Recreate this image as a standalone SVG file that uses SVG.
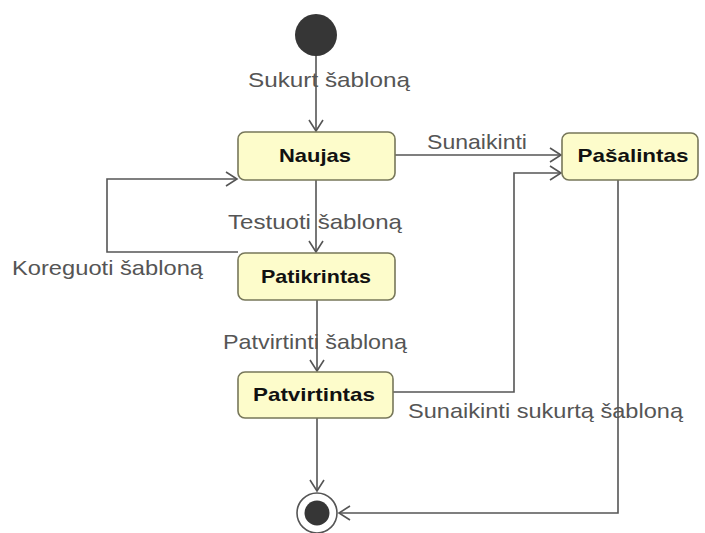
<svg xmlns="http://www.w3.org/2000/svg" width="705" height="533" viewBox="0 0 705 533">
  <style>
    .state rect { fill: #fdfccb; stroke: #77775a; stroke-width: 1.6; }
    .state text { font-family: "Liberation Sans", Arial, sans-serif; font-weight: bold; font-size: 19px; fill: #111; text-anchor: middle; }
    .edge { fill: none; stroke: #555; stroke-width: 1.6; }
    .lbl { font-family: "Liberation Sans", Arial, sans-serif; font-size: 21px; fill: #555; }
  </style>
  <defs>
    <marker id="open" markerUnits="userSpaceOnUse" markerWidth="14" markerHeight="16" refX="12" refY="8" orient="auto">
      <path d="M1,1 L12,8 L1,15" fill="none" stroke="#555" stroke-width="1.6"/>
    </marker>
  </defs>

  <rect width="705" height="533" fill="#fff"/>

  <!-- transitions -->
  <g id="connectors">
    <path class="edge" d="M316,56 V131" marker-end="url(#open)"/>
    <path class="edge" d="M395,155 H561" marker-end="url(#open)"/>
    <path class="edge" d="M316,180 V252" marker-end="url(#open)"/>
    <path class="edge" d="M238,252 H107 V179 H237" marker-end="url(#open)"/>
    <path class="edge" d="M317,300 V371" marker-end="url(#open)"/>
    <path class="edge" d="M393,392 H514 V173 H561" marker-end="url(#open)"/>
    <path class="edge" d="M317,418 V491" marker-end="url(#open)"/>
    <path class="edge" d="M618,180 V513 H339" marker-end="url(#open)"/>
  </g>

  <!-- transition labels -->
  <g id="labels">
    <text class="lbl" x="248" y="87" textLength="162" lengthAdjust="spacingAndGlyphs">Sukurt šabloną</text>
    <text class="lbl" x="427" y="149" textLength="100" lengthAdjust="spacingAndGlyphs">Sunaikinti</text>
    <text class="lbl" x="228" y="229" textLength="174" lengthAdjust="spacingAndGlyphs">Testuoti šabloną</text>
    <text class="lbl" x="12" y="275" textLength="191" lengthAdjust="spacingAndGlyphs">Koreguoti šabloną</text>
    <text class="lbl" x="223" y="349" textLength="184" lengthAdjust="spacingAndGlyphs">Patvirtinti šabloną</text>
    <text class="lbl" x="408" y="418" textLength="275" lengthAdjust="spacingAndGlyphs">Sunaikinti sukurtą šabloną</text>
  </g>

  <!-- pseudo-states -->
  <g id="initial">
    <circle cx="316" cy="35" r="21" fill="#363636"/>
  </g>
  <g id="final">
    <circle cx="317" cy="513" r="20" fill="#fff" stroke="#555" stroke-width="1.6"/>
    <circle cx="317" cy="513" r="12.5" fill="#363636"/>
  </g>

  <!-- states -->
  <g id="naujas" class="state">
    <rect x="238" y="132" width="157" height="48" rx="7"/>
    <text x="315" y="162" textLength="72" lengthAdjust="spacingAndGlyphs">Naujas</text>
  </g>
  <g id="pasalintas" class="state">
    <rect x="562" y="133" width="136" height="47" rx="7"/>
    <text x="633" y="162" textLength="111" lengthAdjust="spacingAndGlyphs">Pašalintas</text>
  </g>
  <g id="patikrintas" class="state">
    <rect x="238" y="253" width="157" height="47" rx="7"/>
    <text x="316" y="283" textLength="110" lengthAdjust="spacingAndGlyphs">Patikrintas</text>
  </g>
  <g id="patvirtintas" class="state">
    <rect x="238" y="372" width="155" height="46" rx="7"/>
    <text x="314" y="401" textLength="122" lengthAdjust="spacingAndGlyphs">Patvirtintas</text>
  </g>
</svg>
